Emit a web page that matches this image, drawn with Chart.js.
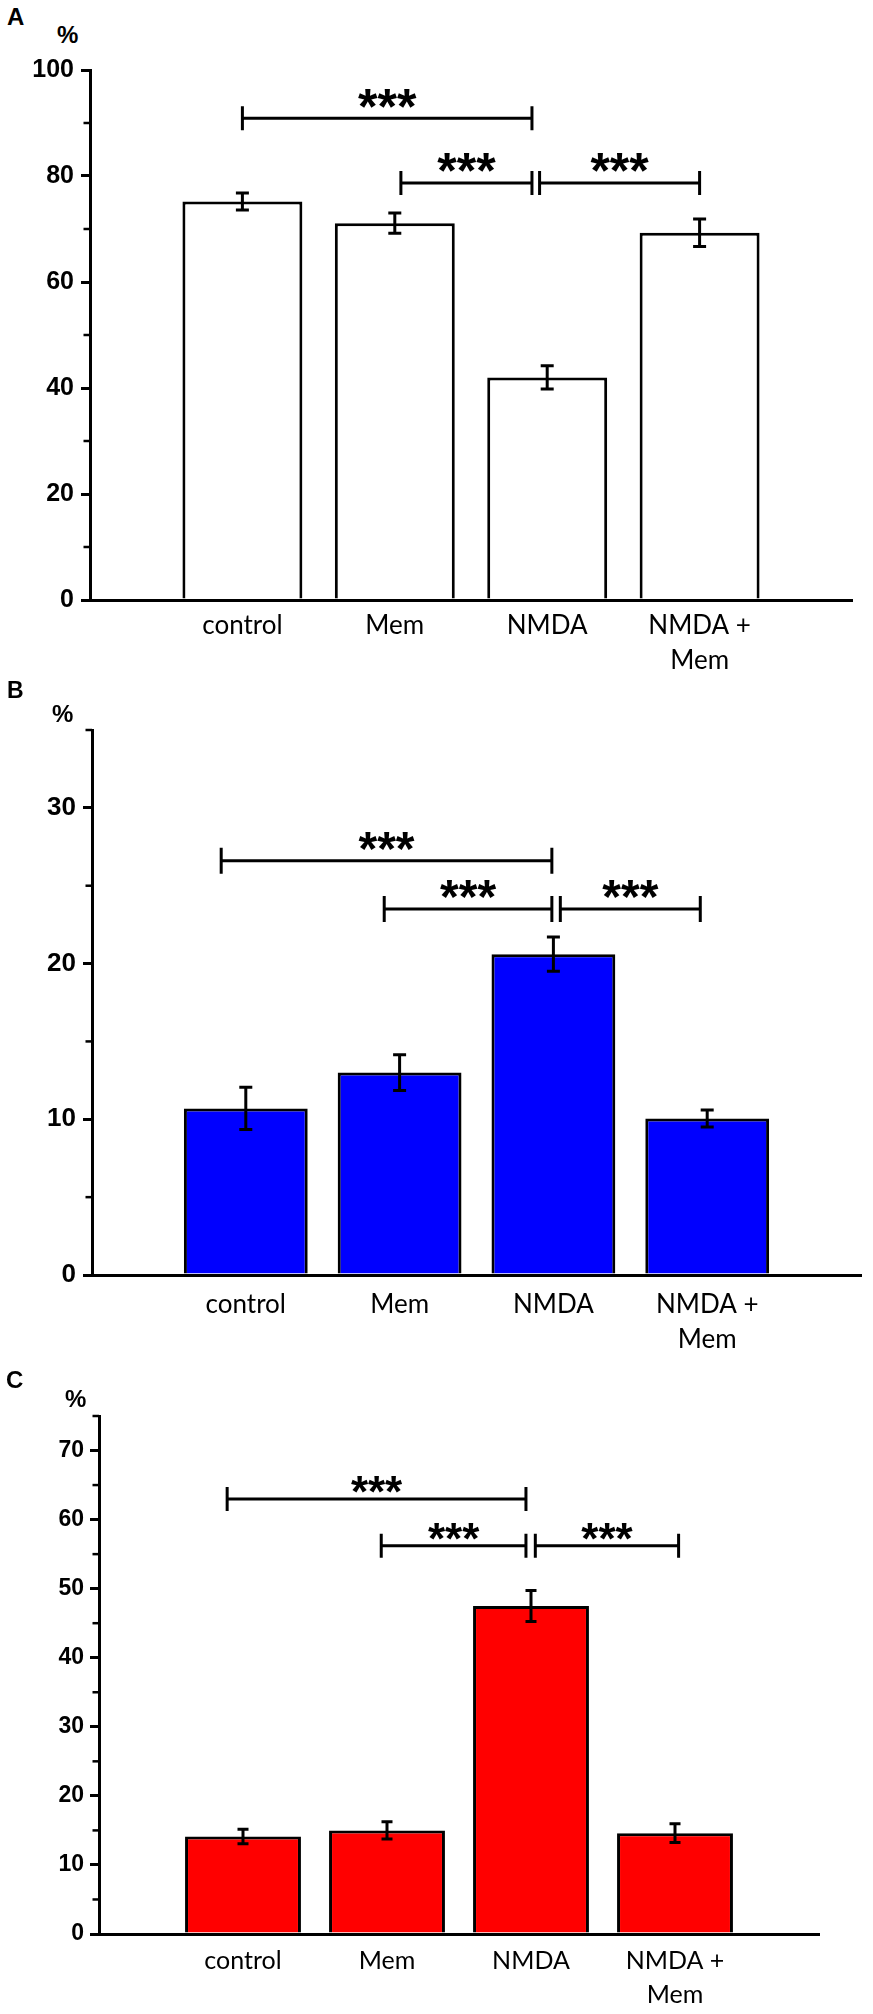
<!DOCTYPE html>
<html lang="en">
<head>
  <meta charset="UTF-8">
  <title>Bar charts A, B, C</title>
  <script src="https://cdn.jsdelivr.net/npm/chart.js"></script>
  <style>
    html, body {
      margin: 0;
      padding: 0;
      background: #fff;
    }
    body {
      width: 873px;
      height: 2014px;
      position: relative;
      overflow: hidden;
      font-family: "Liberation Sans", Arial, sans-serif;
    }
    canvas {
      position: absolute;
      left: 0;
    }
    .mark {
      position: absolute;
      font-weight: bold;
      line-height: 1;
      color: #000;
    }
  </style>
</head>
<body>
  <div class="mark" style="left:7px; top:5px; font-size:24px;">A</div>
  <div class="mark" style="left:57px; top:23px; font-size:24px;">%</div>
  <canvas id="chartA" width="873" height="690" style="top:0px;"></canvas>

  <div class="mark" style="left:7px; top:679px; font-size:23px;">B</div>
  <div class="mark" style="left:52px; top:702px; font-size:24px;">%</div>
  <canvas id="chartB" width="873" height="690" style="top:690px;"></canvas>

  <div class="mark" style="left:6px; top:1368px; font-size:24px;">C</div>
  <div class="mark" style="left:65px; top:1387px; font-size:24px;">%</div>
  <canvas id="chartC" width="873" height="644" style="top:1370px;"></canvas>

  <script>
    const categories = ['control', 'Mem', 'NMDA', ['NMDA +', 'Mem']];

    // A - white bars
    const valuesA = [75.2, 71.1, 42.0, 69.3];
    const errorsA = [1.6, 1.9, 2.2, 2.6];
    const ticksA = [0, 20, 40, 60, 80, 100];
    const minorA = [10, 30, 50, 70, 90];
    // [from, to, height] with control = 1 on the category axis
    const bracketsA = [[1.0, 2.90, 90.9], [2.04, 2.90, 78.7], [2.95, 4.0, 78.7]];

    // B - blue bars
    const valuesB = [10.7, 13.0, 20.6, 10.05];
    const errorsB = [1.35, 1.15, 1.1, 0.55];
    const ticksB = [0, 10, 20, 30];
    const minorB = [5, 15, 25, 35];
    const bracketsB = [[0.84, 2.99, 26.6], [1.9, 2.99, 23.5], [3.045, 3.955, 23.5]];

    // C - red bars
    const valuesC = [14.1, 15.0, 47.5, 14.6];
    const errorsC = [1.05, 1.25, 2.25, 1.35];
    const ticksC = [0, 10, 20, 30, 40, 50, 60, 70];
    const minorC = [5, 15, 25, 35, 45, 55, 65, 75];
    const bracketsC = [[0.89, 2.965, 63.0], [1.96, 2.965, 56.2], [3.03, 4.025, 56.2]];

    // error bars, minor ticks and significance brackets
    const extras = {
      id: 'extras',
      afterDatasetsDraw(chart, args, opts) {
        const ctx = chart.ctx;
        const xs = chart.scales.x;
        const ys = chart.scales.y;
        const area = chart.chartArea;
        const meta = chart.getDatasetMeta(0);
        ctx.save();
        ctx.strokeStyle = '#000';
        ctx.fillStyle = '#000';
        ctx.lineCap = 'butt';

        ctx.lineWidth = 2.5;
        opts.minor.forEach(v => {
          const py = ys.getPixelForValue(v);
          ctx.beginPath();
          ctx.moveTo(area.left - 6.5, py);
          ctx.lineTo(area.left, py);
          ctx.stroke();
        });

        ctx.lineWidth = 3;
        opts.errors.forEach((e, i) => {
          const v = opts.values[i];
          const px = meta.data[i + 1].x;
          const top = ys.getPixelForValue(v + e);
          const bot = ys.getPixelForValue(v - e);
          const c = opts.cap / 2;
          ctx.beginPath();
          ctx.moveTo(px, top); ctx.lineTo(px, bot);
          ctx.moveTo(px - c, top); ctx.lineTo(px + c, top);
          ctx.moveTo(px - c, bot); ctx.lineTo(px + c, bot);
          ctx.stroke();
        });

        ctx.font = 'bold ' + opts.starSize + 'px "Liberation Sans", Arial, sans-serif';
        ctx.textAlign = 'center';
        ctx.textBaseline = 'alphabetic';
        const m = ctx.measureText('***');
        const shift = (m.actualBoundingBoxDescent - m.actualBoundingBoxAscent) / 2;
        opts.brackets.forEach(([a, b, v]) => {
          const x1 = xs.getPixelForValue(a);
          const x2 = xs.getPixelForValue(b);
          const py = ys.getPixelForValue(v);
          ctx.beginPath();
          ctx.moveTo(x1, py); ctx.lineTo(x2, py);
          ctx.moveTo(x1, py - opts.hook); ctx.lineTo(x1, py + opts.hook);
          ctx.moveTo(x2, py - opts.hook); ctx.lineTo(x2, py + opts.hook);
          ctx.stroke();
          ctx.fillText('***', (x1 + x2) / 2, py - opts.starGap - shift);
        });
        ctx.restore();
      }
    };

    function makeChart(id, p) {
      const labels = ['', ...categories, ''];
      const data = [null, ...p.values, null];
      return new Chart(document.getElementById(id), {
        type: 'bar',
        data: {
          labels: labels,
          datasets: [{
            data: data,
            backgroundColor: p.fill,
            borderColor: '#000',
            borderWidth: 3,
            borderSkipped: 'start',
            categoryPercentage: 1,
            barPercentage: p.barPct
          }]
        },
        options: {
          responsive: false,
          animation: false,
          layout: { padding: { top: p.top, right: p.right, left: 0, bottom: 0 } },
          plugins: {
            legend: { display: false },
            tooltip: { enabled: false },
            extras: {
              values: p.values,
              errors: p.errors,
              minor: p.minor,
              brackets: p.brackets,
              cap: p.cap,
              hook: p.hook,
              starSize: p.starSize,
              starGap: p.starGap
            }
          },
          scales: {
            x: {
              type: 'category',
              offset: false,
              grid: { display: true, drawOnChartArea: false, drawTicks: false },
              border: { display: true, color: '#000', width: 3 },
              ticks: {
                autoSkip: false,
                maxRotation: 0,
                color: '#000',
                padding: p.labelPad,
                font: { family: 'Lato', size: p.labelSize, lineHeight: 1.35 }
              },
              afterFit: s => { s.height = p.xHeight; }
            },
            y: {
              min: 0,
              max: p.max,
              grid: { display: true, drawOnChartArea: false, drawTicks: true, tickLength: 9, lineWidth: 3, color: '#000' },
              border: { display: true, color: '#000', width: 3 },
              ticks: {
                color: '#000',
                padding: p.tickPad,
                font: { family: '"Liberation Sans", Arial, sans-serif', weight: 'bold', size: p.tickSize }
              },
              afterBuildTicks: s => { s.ticks = p.ticks.map(v => ({ value: v })); },
              afterFit: s => { s.width = p.yWidth; }
            }
          }
        },
        plugins: [extras]
      });
    }

    makeChart('chartA', {
      values: valuesA, errors: errorsA, ticks: ticksA, minor: minorA, brackets: bracketsA,
      fill: '#ffffff', max: 100, top: 70, right: 21, yWidth: 90, xHeight: 90,
      barPct: 0.787, tickSize: 25, tickPad: 7, labelSize: 26, labelPad: 8,
      cap: 13, hook: 12, starSize: 50, starGap: 20
    });

    makeChart('chartB', {
      values: valuesB, errors: errorsB, ticks: ticksB, minor: minorB, brackets: bracketsB,
      fill: '#0000ff', max: 35, top: 40, right: 11, yWidth: 92, xHeight: 105,
      barPct: 0.805, tickSize: 26, tickPad: 7, labelSize: 26, labelPad: 12,
      cap: 13, hook: 13, starSize: 48, starGap: 20
    });

    makeChart('chartC', {
      values: valuesC, errors: errorsC, ticks: ticksC, minor: minorC, brackets: bracketsC,
      fill: '#ff0000', max: 75, top: 46, right: 54, yWidth: 99, xHeight: 80,
      barPct: 0.805, tickSize: 23, tickPad: 6, labelSize: 25, labelPad: 10,
      cap: 11, hook: 12, starSize: 44, starGap: 14
    });
  </script>
</body>
</html>
